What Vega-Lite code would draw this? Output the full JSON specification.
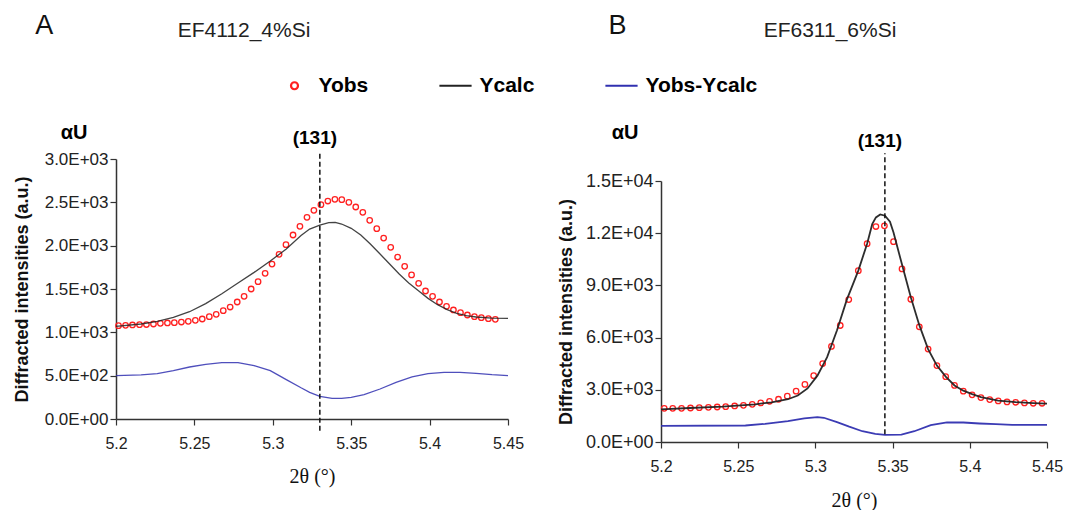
{
  "$schema": "https://vega.github.io/schema/vega-lite/v6.json",
  "padding": {"left": 13, "top": 12, "right": 5, "bottom": 0},
  "background": "white",
  "config": {
    "view": {"stroke": null},
    "font": "Liberation Sans",
    "axis": {"grid": false, "domainColor": "#333", "tickColor": "#333", "domainWidth": 1.5, "tickWidth": 1.2, "tickSize": 6, "labelColor": "#222", "labelFont": "Liberation Sans", "labelFontSize": 16, "titleColor": "#111", "labelOverlap": false, "labelFlush": false},
    "title": {"font": "Liberation Sans", "fontWeight": "normal", "color": "#222"},
    "legend": {"labelFontSize": 21, "labelFontWeight": "bold", "labelColor": "#000", "labelFont": "Liberation Sans", "labelOffset": 13.5, "columnPadding": 66, "symbolSize": 49, "symbolStrokeWidth": 2.2, "labelLimit": 400}
  },
  "datasets": {
    "obsA": [
      {"x": 5.2016, "y": 1077, "series": "Yobs"}, {"x": 5.2061, "y": 1081, "series": "Yobs"}, {"x": 5.2105, "y": 1085, "series": "Yobs"}, {"x": 5.2150, "y": 1088, "series": "Yobs"}, {"x": 5.2194, "y": 1090, "series": "Yobs"}, {"x": 5.2239, "y": 1096, "series": "Yobs"}, {"x": 5.2283, "y": 1104, "series": "Yobs"}, {"x": 5.2328, "y": 1108, "series": "Yobs"}, {"x": 5.2372, "y": 1112, "series": "Yobs"}, {"x": 5.2417, "y": 1119, "series": "Yobs"}, {"x": 5.2461, "y": 1127, "series": "Yobs"}, {"x": 5.2506, "y": 1138, "series": "Yobs"}, {"x": 5.2550, "y": 1154, "series": "Yobs"}, {"x": 5.2595, "y": 1181, "series": "Yobs"}, {"x": 5.2639, "y": 1208, "series": "Yobs"}, {"x": 5.2684, "y": 1250, "series": "Yobs"}, {"x": 5.2728, "y": 1292, "series": "Yobs"}, {"x": 5.2773, "y": 1350, "series": "Yobs"}, {"x": 5.2817, "y": 1415, "series": "Yobs"}, {"x": 5.2862, "y": 1500, "series": "Yobs"}, {"x": 5.2906, "y": 1585, "series": "Yobs"}, {"x": 5.2951, "y": 1681, "series": "Yobs"}, {"x": 5.2995, "y": 1788, "series": "Yobs"}, {"x": 5.3040, "y": 1900, "series": "Yobs"}, {"x": 5.3084, "y": 2011, "series": "Yobs"}, {"x": 5.3129, "y": 2123, "series": "Yobs"}, {"x": 5.3173, "y": 2223, "series": "Yobs"}, {"x": 5.3218, "y": 2327, "series": "Yobs"}, {"x": 5.3262, "y": 2408, "series": "Yobs"}, {"x": 5.3307, "y": 2473, "series": "Yobs"}, {"x": 5.3351, "y": 2515, "series": "Yobs"}, {"x": 5.3396, "y": 2535, "series": "Yobs"}, {"x": 5.3440, "y": 2531, "series": "Yobs"}, {"x": 5.3485, "y": 2500, "series": "Yobs"}, {"x": 5.3529, "y": 2446, "series": "Yobs"}, {"x": 5.3574, "y": 2385, "series": "Yobs"}, {"x": 5.3618, "y": 2292, "series": "Yobs"}, {"x": 5.3663, "y": 2196, "series": "Yobs"}, {"x": 5.3707, "y": 2088, "series": "Yobs"}, {"x": 5.3752, "y": 1981, "series": "Yobs"}, {"x": 5.3796, "y": 1869, "series": "Yobs"}, {"x": 5.3841, "y": 1762, "series": "Yobs"}, {"x": 5.3885, "y": 1662, "series": "Yobs"}, {"x": 5.3930, "y": 1565, "series": "Yobs"}, {"x": 5.3974, "y": 1477, "series": "Yobs"}, {"x": 5.4019, "y": 1415, "series": "Yobs"}, {"x": 5.4063, "y": 1350, "series": "Yobs"}, {"x": 5.4108, "y": 1300, "series": "Yobs"}, {"x": 5.4152, "y": 1258, "series": "Yobs"}, {"x": 5.4197, "y": 1227, "series": "Yobs"}, {"x": 5.4241, "y": 1200, "series": "Yobs"}, {"x": 5.4286, "y": 1181, "series": "Yobs"}, {"x": 5.4330, "y": 1169, "series": "Yobs"}, {"x": 5.4375, "y": 1158, "series": "Yobs"}, {"x": 5.4419, "y": 1150, "series": "Yobs"}
    ],
    "calcA": [
      {"x": 5.2000, "y": 1069, "series": "Ycalc"}, {"x": 5.2160, "y": 1096, "series": "Ycalc"}, {"x": 5.2263, "y": 1127, "series": "Ycalc"}, {"x": 5.2366, "y": 1173, "series": "Ycalc"}, {"x": 5.2469, "y": 1238, "series": "Ycalc"}, {"x": 5.2572, "y": 1331, "series": "Ycalc"}, {"x": 5.2675, "y": 1446, "series": "Ycalc"}, {"x": 5.2778, "y": 1569, "series": "Ycalc"}, {"x": 5.2881, "y": 1692, "series": "Ycalc"}, {"x": 5.2984, "y": 1823, "series": "Ycalc"}, {"x": 5.3086, "y": 1962, "series": "Ycalc"}, {"x": 5.3180, "y": 2118, "series": "Ycalc"}, {"x": 5.3235, "y": 2192, "series": "Ycalc"}, {"x": 5.3300, "y": 2238, "series": "Ycalc"}, {"x": 5.3357, "y": 2265, "series": "Ycalc"}, {"x": 5.3398, "y": 2269, "series": "Ycalc"}, {"x": 5.3439, "y": 2250, "series": "Ycalc"}, {"x": 5.3500, "y": 2200, "series": "Ycalc"}, {"x": 5.3561, "y": 2123, "series": "Ycalc"}, {"x": 5.3622, "y": 2019, "series": "Ycalc"}, {"x": 5.3684, "y": 1904, "series": "Ycalc"}, {"x": 5.3745, "y": 1788, "series": "Ycalc"}, {"x": 5.3806, "y": 1673, "series": "Ycalc"}, {"x": 5.3867, "y": 1569, "series": "Ycalc"}, {"x": 5.3929, "y": 1481, "series": "Ycalc"}, {"x": 5.3990, "y": 1392, "series": "Ycalc"}, {"x": 5.4051, "y": 1319, "series": "Ycalc"}, {"x": 5.4112, "y": 1262, "series": "Ycalc"}, {"x": 5.4173, "y": 1219, "series": "Ycalc"}, {"x": 5.4235, "y": 1192, "series": "Ycalc"}, {"x": 5.4296, "y": 1177, "series": "Ycalc"}, {"x": 5.4398, "y": 1165, "series": "Ycalc"}, {"x": 5.4500, "y": 1160, "series": "Ycalc"},
      {"x": 5.2000, "y": 500, "series": "Yobs-Ycalc"}, {"x": 5.2160, "y": 508, "series": "Yobs-Ycalc"}, {"x": 5.2263, "y": 523, "series": "Yobs-Ycalc"}, {"x": 5.2366, "y": 558, "series": "Yobs-Ycalc"}, {"x": 5.2469, "y": 600, "series": "Yobs-Ycalc"}, {"x": 5.2572, "y": 631, "series": "Yobs-Ycalc"}, {"x": 5.2675, "y": 650, "series": "Yobs-Ycalc"}, {"x": 5.2778, "y": 650, "series": "Yobs-Ycalc"}, {"x": 5.2881, "y": 615, "series": "Yobs-Ycalc"}, {"x": 5.2984, "y": 558, "series": "Yobs-Ycalc"}, {"x": 5.3086, "y": 454, "series": "Yobs-Ycalc"}, {"x": 5.3180, "y": 360, "series": "Yobs-Ycalc"}, {"x": 5.3235, "y": 308, "series": "Yobs-Ycalc"}, {"x": 5.3300, "y": 262, "series": "Yobs-Ycalc"}, {"x": 5.3378, "y": 238, "series": "Yobs-Ycalc"}, {"x": 5.3439, "y": 238, "series": "Yobs-Ycalc"}, {"x": 5.3500, "y": 250, "series": "Yobs-Ycalc"}, {"x": 5.3582, "y": 281, "series": "Yobs-Ycalc"}, {"x": 5.3684, "y": 346, "series": "Yobs-Ycalc"}, {"x": 5.3786, "y": 423, "series": "Yobs-Ycalc"}, {"x": 5.3888, "y": 485, "series": "Yobs-Ycalc"}, {"x": 5.3990, "y": 523, "series": "Yobs-Ycalc"}, {"x": 5.4092, "y": 538, "series": "Yobs-Ycalc"}, {"x": 5.4194, "y": 538, "series": "Yobs-Ycalc"}, {"x": 5.4296, "y": 527, "series": "Yobs-Ycalc"}, {"x": 5.4398, "y": 511, "series": "Yobs-Ycalc"}, {"x": 5.4500, "y": 500, "series": "Yobs-Ycalc"}
    ],
    "obsB": [
      {"x": 5.2021, "y": 1935, "series": "Yobs"}, {"x": 5.2076, "y": 1935, "series": "Yobs"}, {"x": 5.2133, "y": 1935, "series": "Yobs"}, {"x": 5.2191, "y": 1954, "series": "Yobs"}, {"x": 5.2248, "y": 1974, "series": "Yobs"}, {"x": 5.2307, "y": 1993, "series": "Yobs"}, {"x": 5.2364, "y": 2012, "series": "Yobs"}, {"x": 5.2419, "y": 2032, "series": "Yobs"}, {"x": 5.2477, "y": 2070, "series": "Yobs"}, {"x": 5.2534, "y": 2109, "series": "Yobs"}, {"x": 5.2591, "y": 2167, "series": "Yobs"}, {"x": 5.2646, "y": 2245, "series": "Yobs"}, {"x": 5.2703, "y": 2341, "series": "Yobs"}, {"x": 5.2761, "y": 2457, "series": "Yobs"}, {"x": 5.2818, "y": 2632, "series": "Yobs"}, {"x": 5.2875, "y": 2922, "series": "Yobs"}, {"x": 5.2932, "y": 3309, "series": "Yobs"}, {"x": 5.2989, "y": 3812, "series": "Yobs"}, {"x": 5.3047, "y": 4509, "series": "Yobs"}, {"x": 5.3104, "y": 5495, "series": "Yobs"}, {"x": 5.3161, "y": 6695, "series": "Yobs"}, {"x": 5.3216, "y": 8185, "series": "Yobs"}, {"x": 5.3278, "y": 9849, "series": "Yobs"}, {"x": 5.3335, "y": 11397, "series": "Yobs"}, {"x": 5.3392, "y": 12384, "series": "Yobs"}, {"x": 5.3447, "y": 12423, "series": "Yobs"}, {"x": 5.3506, "y": 11513, "series": "Yobs"}, {"x": 5.3561, "y": 9946, "series": "Yobs"}, {"x": 5.3618, "y": 8204, "series": "Yobs"}, {"x": 5.3673, "y": 6618, "series": "Yobs"}, {"x": 5.3730, "y": 5341, "series": "Yobs"}, {"x": 5.3787, "y": 4392, "series": "Yobs"}, {"x": 5.3844, "y": 3754, "series": "Yobs"}, {"x": 5.3901, "y": 3251, "series": "Yobs"}, {"x": 5.3958, "y": 2922, "series": "Yobs"}, {"x": 5.4015, "y": 2709, "series": "Yobs"}, {"x": 5.4072, "y": 2554, "series": "Yobs"}, {"x": 5.4129, "y": 2438, "series": "Yobs"}, {"x": 5.4184, "y": 2361, "series": "Yobs"}, {"x": 5.4241, "y": 2303, "series": "Yobs"}, {"x": 5.4297, "y": 2283, "series": "Yobs"}, {"x": 5.4354, "y": 2245, "series": "Yobs"}, {"x": 5.4411, "y": 2225, "series": "Yobs"}, {"x": 5.4468, "y": 2225, "series": "Yobs"}
    ],
    "calcB": [
      {"x": 5.2000, "y": 1877, "series": "Ycalc"}, {"x": 5.2186, "y": 1954, "series": "Ycalc"}, {"x": 5.2398, "y": 2032, "series": "Ycalc"}, {"x": 5.2610, "y": 2167, "series": "Ycalc"}, {"x": 5.2716, "y": 2283, "series": "Ycalc"}, {"x": 5.2822, "y": 2457, "series": "Ycalc"}, {"x": 5.2886, "y": 2670, "series": "Ycalc"}, {"x": 5.2949, "y": 3077, "series": "Ycalc"}, {"x": 5.3013, "y": 3812, "series": "Ycalc"}, {"x": 5.3076, "y": 4876, "series": "Ycalc"}, {"x": 5.3140, "y": 6424, "series": "Ycalc"}, {"x": 5.3203, "y": 8166, "series": "Ycalc"}, {"x": 5.3278, "y": 9849, "series": "Ycalc"}, {"x": 5.3335, "y": 11397, "series": "Ycalc"}, {"x": 5.3368, "y": 12519, "series": "Ycalc"}, {"x": 5.3392, "y": 12906, "series": "Ycalc"}, {"x": 5.3420, "y": 13081, "series": "Ycalc"}, {"x": 5.3451, "y": 13003, "series": "Ycalc"}, {"x": 5.3483, "y": 12655, "series": "Ycalc"}, {"x": 5.3506, "y": 12036, "series": "Ycalc"}, {"x": 5.3561, "y": 10197, "series": "Ycalc"}, {"x": 5.3618, "y": 8320, "series": "Ycalc"}, {"x": 5.3673, "y": 6714, "series": "Ycalc"}, {"x": 5.3730, "y": 5340, "series": "Ycalc"}, {"x": 5.3787, "y": 4390, "series": "Ycalc"}, {"x": 5.3844, "y": 3754, "series": "Ycalc"}, {"x": 5.3901, "y": 3251, "series": "Ycalc"}, {"x": 5.3958, "y": 2950, "series": "Ycalc"}, {"x": 5.4015, "y": 2750, "series": "Ycalc"}, {"x": 5.4072, "y": 2580, "series": "Ycalc"}, {"x": 5.4184, "y": 2380, "series": "Ycalc"}, {"x": 5.4297, "y": 2290, "series": "Ycalc"}, {"x": 5.4411, "y": 2230, "series": "Ycalc"}, {"x": 5.4500, "y": 2200, "series": "Ycalc"},
      {"x": 5.2000, "y": 929, "series": "Yobs-Ycalc"}, {"x": 5.2547, "y": 948, "series": "Yobs-Ycalc"}, {"x": 5.2674, "y": 1045, "series": "Yobs-Ycalc"}, {"x": 5.2822, "y": 1200, "series": "Yobs-Ycalc"}, {"x": 5.2928, "y": 1355, "series": "Yobs-Ycalc"}, {"x": 5.3013, "y": 1432, "series": "Yobs-Ycalc"}, {"x": 5.3055, "y": 1393, "series": "Yobs-Ycalc"}, {"x": 5.3140, "y": 1142, "series": "Yobs-Ycalc"}, {"x": 5.3219, "y": 880, "series": "Yobs-Ycalc"}, {"x": 5.3304, "y": 619, "series": "Yobs-Ycalc"}, {"x": 5.3388, "y": 464, "series": "Yobs-Ycalc"}, {"x": 5.3451, "y": 406, "series": "Yobs-Ycalc"}, {"x": 5.3557, "y": 426, "series": "Yobs-Ycalc"}, {"x": 5.3641, "y": 619, "series": "Yobs-Ycalc"}, {"x": 5.3747, "y": 968, "series": "Yobs-Ycalc"}, {"x": 5.3852, "y": 1122, "series": "Yobs-Ycalc"}, {"x": 5.3958, "y": 1122, "series": "Yobs-Ycalc"}, {"x": 5.4063, "y": 1064, "series": "Yobs-Ycalc"}, {"x": 5.4169, "y": 1026, "series": "Yobs-Ycalc"}, {"x": 5.4274, "y": 987, "series": "Yobs-Ycalc"}, {"x": 5.4500, "y": 987, "series": "Yobs-Ycalc"}
    ],
    "peakA": [{"hkl": "(131)", "pos": 5.33, "unit": "αU"}],
    "peakB": [{"hkl": "(131)", "pos": 5.345, "unit": "αU"}]
  },
  "spacing": 33,
  "hconcat": [
    {
      "title": {"text": "A", "anchor": "start", "frame": "bounds", "fontSize": 27, "offset": -20, "dx": 22, "color": "#111"},
      "hconcat": [
        {
          "width": 392,
          "height": 260,
          "title": {"text": "EF4112_4%Si", "fontSize": 21, "anchor": "middle", "dx": -68, "offset": 82},
          "layer": [
            {
              "data": {"name": "obsA"},
              "mark": {"type": "point", "filled": false, "size": 30, "strokeWidth": 1.3, "opacity": 1},
              "encoding": {
                "x": {"field": "x", "type": "quantitative", "scale": {"domain": [5.2, 5.45], "nice": false, "zero": false}, "axis": {"values": [5.2, 5.25, 5.3, 5.35, 5.4, 5.45], "format": "~g", "labelPadding": 10, "title": "2θ (°)", "titleFont": "Liberation Serif", "titleFontSize": 20, "titleFontWeight": "normal", "titlePadding": 15}},
                "y": {"field": "y", "type": "quantitative", "scale": {"domain": [0, 3000], "nice": false}, "axis": {"values": [0, 500, 1000, 1500, 2000, 2500, 3000], "labelFontSize": 17, "labelPadding": 2, "labelExpr": "datum.value === 0 ? '0.0E+00' : format(datum.value / pow(10, floor(log(datum.value) / LN10 + 1e-9)), '.1f') + 'E+' + (floor(log(datum.value) / LN10 + 1e-9) < 10 ? '0' : '') + floor(log(datum.value) / LN10 + 1e-9)", "title": "Diffracted intensities (a.u.)", "titleFontSize": 18, "titleFontWeight": "bold", "titlePadding": 13}},
                "color": {
                  "field": "series", "type": "nominal",
                  "scale": {"domain": ["Yobs", "Ycalc", "Yobs-Ycalc"], "range": ["#ff2020", "#222222", "#3030b0"]},
                  "legend": {"orient": "none", "legendX": 168, "legendY": -84, "direction": "horizontal", "title": null}
                },
                "shape": {
                  "field": "series", "type": "nominal",
                  "scale": {"domain": ["Yobs", "Ycalc", "Yobs-Ycalc"], "range": ["circle", "M-4.6,0H4.6", "M-4.6,0H4.6"]},
                  "legend": {"orient": "none", "legendX": 168, "legendY": -84, "direction": "horizontal", "title": null}
                }
              }
            },
            {
              "data": {"name": "calcA"},
              "mark": {"type": "line", "strokeWidth": 1.3, "opacity": 0.85},
              "encoding": {
                "x": {"field": "x", "type": "quantitative"},
                "y": {"field": "y", "type": "quantitative"},
                "color": {"field": "series", "type": "nominal", "legend": {"orient": "none", "legendX": 168, "legendY": -84, "direction": "horizontal", "title": null}}
              }
            },
            {
              "data": {"name": "peakA"},
              "mark": {"type": "rule", "strokeDash": [5, 3], "strokeWidth": 1.5, "color": "#111"},
              "encoding": {
                "x": {"field": "pos", "type": "quantitative"},
                "y": {"datum": -135},
                "y2": {"datum": 3070}
              }
            },
            {
              "data": {"name": "peakA"},
              "mark": {"type": "text", "fontSize": 19, "fontWeight": "bold", "baseline": "alphabetic", "align": "center", "dx": -5, "dy": -15, "color": "#000"},
              "encoding": {
                "x": {"field": "pos", "type": "quantitative"},
                "y": {"datum": 3000},
                "text": {"field": "hkl"}
              }
            },
            {
              "data": {"name": "peakA"},
              "mark": {"type": "text", "fontSize": 20, "fontWeight": "bold", "baseline": "alphabetic", "align": "center", "dx": -42, "dy": -20, "color": "#000"},
              "encoding": {
                "x": {"datum": 5.2},
                "y": {"datum": 3000},
                "text": {"field": "unit"}
              }
            }
          ]
        }
      ]
    },
    {
      "title": {"text": "B", "anchor": "start", "frame": "bounds", "fontSize": 27, "offset": -20, "dx": 51, "color": "#111"},
      "hconcat": [
        {
          "width": 386,
          "height": 283,
          "title": {"text": "EF6311_6%Si", "fontSize": 21, "anchor": "middle", "dx": -24, "offset": 82},
          "layer": [
            {
              "data": {"name": "obsB"},
              "mark": {"type": "point", "filled": false, "size": 30, "strokeWidth": 1.3, "opacity": 1},
              "encoding": {
                "x": {"field": "x", "type": "quantitative", "scale": {"domain": [5.2, 5.45], "nice": false, "zero": false}, "axis": {"values": [5.2, 5.25, 5.3, 5.35, 5.4, 5.45], "format": "~g", "labelPadding": 10, "title": "2θ (°)", "titleFont": "Liberation Serif", "titleFontSize": 20, "titleFontWeight": "normal", "titlePadding": 16}},
                "y": {"field": "y", "type": "quantitative", "scale": {"domain": [0, 15000], "nice": false, "range": [283, 22]}, "axis": {"values": [0, 3000, 6000, 9000, 12000, 15000], "labelFontSize": 18, "labelPadding": 2, "labelExpr": "datum.value === 0 ? '0.0E+00' : format(datum.value / pow(10, floor(log(datum.value) / LN10 + 1e-9)), '.1f') + 'E+' + (floor(log(datum.value) / LN10 + 1e-9) < 10 ? '0' : '') + floor(log(datum.value) / LN10 + 1e-9)", "title": "Diffracted intensities (a.u.)", "titleFontSize": 18, "titleFontWeight": "bold", "titlePadding": 10}},
                "color": {"field": "series", "type": "nominal", "legend": {"orient": "none", "legendX": 168, "legendY": -84, "direction": "horizontal", "title": null}},
                "shape": {"field": "series", "type": "nominal", "legend": {"orient": "none", "legendX": 168, "legendY": -84, "direction": "horizontal", "title": null}}
              }
            },
            {
              "data": {"name": "calcB"},
              "mark": {"type": "line", "strokeWidth": 1.8, "opacity": 0.95},
              "encoding": {
                "x": {"field": "x", "type": "quantitative"},
                "y": {"field": "y", "type": "quantitative"},
                "color": {"field": "series", "type": "nominal", "legend": {"orient": "none", "legendX": 168, "legendY": -84, "direction": "horizontal", "title": null}}
              }
            },
            {
              "data": {"name": "peakB"},
              "mark": {"type": "rule", "strokeDash": [5, 3], "strokeWidth": 1.5, "color": "#111"},
              "encoding": {
                "x": {"field": "pos", "type": "quantitative"},
                "y": {"datum": 445},
                "y2": {"datum": 16600}
              }
            },
            {
              "data": {"name": "peakB"},
              "mark": {"type": "text", "fontSize": 19, "fontWeight": "bold", "baseline": "alphabetic", "align": "center", "dx": -5, "dy": -34, "color": "#000"},
              "encoding": {
                "x": {"field": "pos", "type": "quantitative"},
                "y": {"datum": 15000},
                "text": {"field": "hkl"}
              }
            },
            {
              "data": {"name": "peakB"},
              "mark": {"type": "text", "fontSize": 20, "fontWeight": "bold", "baseline": "alphabetic", "align": "center", "dx": -36, "dy": -42, "color": "#000"},
              "encoding": {
                "x": {"datum": 5.2},
                "y": {"datum": 15000},
                "text": {"field": "unit"}
              }
            }
          ]
        }
      ]
    }
  ]
}
